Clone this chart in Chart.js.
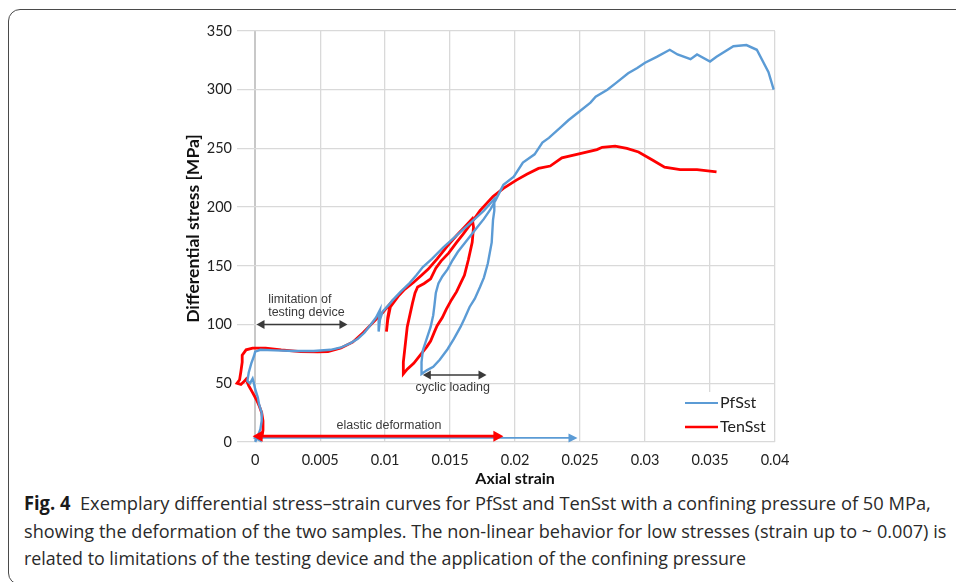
<!DOCTYPE html>
<html>
<head>
<meta charset="utf-8">
<script src="https://cdn.jsdelivr.net/npm/chart.js@4.4.1/dist/chart.umd.min.js"></script>
<style>
  html, body { margin: 0; padding: 0; background: #fff; }
  body { width: 956px; height: 582px; position: relative; overflow: hidden; }
  #frame { position: absolute; left: 8px; top: 9px; width: 980px; height: 576px; border: 1.5px solid #4a4a4a; border-radius: 12px; box-sizing: border-box; }
  #chartBox { position: absolute; left: 0; top: 0; }
  .cap { position: absolute; left: 24px; white-space: nowrap; font-family: 'Open Sans', sans-serif; font-size: 19px; line-height: 24px; color: #2a2a2a; transform-origin: 0 50%; }
  .cap b { font-weight: 700; color: #1a1a1a; }
</style>
</head>
<body>
<div id="frame"></div>
<div id="chartBox"><canvas id="stressChart" width="956" height="490"></canvas></div>
<div class="cap" data-w="907" style="top:491px"><b>Fig. 4</b>&nbsp; Exemplary differential stress–strain curves for PfSst and TenSst with a confining pressure of 50 MPa,</div>
<div class="cap" data-w="922" style="top:519px">showing the deformation of the two samples. The non-linear behavior for low stresses (strain up to ~ 0.007) is</div>
<div class="cap" data-w="722" style="top:546px">related to limitations of the testing device and the application of the confining pressure</div>
<script>
// axis ticks
const xTickValues = [0, 0.005, 0.01, 0.015, 0.02, 0.025, 0.03, 0.035, 0.04];
const xTickLabels = ['0', '0.005', '0.01', '0.015', '0.02', '0.025', '0.03', '0.035', '0.04'];
const yTickValues = [0, 50, 100, 150, 200, 250, 300, 350];
const seriesNames = ['PfSst', 'TenSst'];

// PfSst curve (axial strain, differential stress in MPa)
const pfStrain = [0, 0.0002, 0.0004, 0.0005, 0.0005, 0.0003, 0.0002, 0.0000, -0.0001, -0.0002, -0.0004, -0.0006, -0.0005, -0.0003, -0.0001, 0.0000, 0.0004,
  0.0015, 0.003, 0.0045, 0.0058, 0.0066, 0.0073, 0.0079, 0.0084, 0.0089, 0.0093, 0.0096, 0.0095, 0.0095, 0.0096, 0.0098, 0.0103, 0.0106,
  0.0112, 0.0119, 0.0124, 0.0129, 0.0136, 0.0145, 0.0151, 0.0158, 0.0168, 0.0176, 0.0184,
  0.0184, 0.0183, 0.0182, 0.0179, 0.0176, 0.0173, 0.0169, 0.0165, 0.0161, 0.0158, 0.0153, 0.0148, 0.0142, 0.0137, 0.0132, 0.0128,
  0.0128, 0.0129, 0.0132, 0.0135, 0.0137, 0.0138, 0.0139, 0.0141, 0.0144, 0.0148, 0.0152, 0.0156, 0.0161, 0.0166, 0.0171, 0.0176, 0.0181, 0.0185,
  0.0191, 0.0199, 0.0206, 0.0215, 0.0221, 0.0226, 0.0235, 0.0241, 0.0249, 0.0258, 0.0262, 0.0271, 0.0278, 0.0287, 0.0294, 0.0300,
  0.0309, 0.0319, 0.0325, 0.0335, 0.0340, 0.0350, 0.0355, 0.0368, 0.0378, 0.0386, 0.0395, 0.0399];
const pfStress = [0, 5, 11, 18, 25, 32, 38, 45, 50, 54, 50, 52, 59, 67, 73, 77, 78.5,
  78, 77.5, 77.5, 78.5, 80.5, 84, 88, 93, 100, 106, 112.5, 103, 94, 104, 111, 117, 121,
  128, 135.5, 142, 149, 156, 166, 172, 179, 189, 197, 207,
  197, 189, 170, 152, 140, 132, 122, 115, 105, 98, 88, 79, 70, 64, 61, 58,
  68, 78, 88, 98, 108, 117, 127, 135, 141, 147, 155, 162, 169, 176, 183, 190, 198, 206,
  219, 226, 238, 245, 255, 259, 268, 274, 281, 289, 294, 300, 306, 314, 318.5, 323,
  328, 334, 330, 326, 330, 324, 328, 337, 338, 334, 315, 300];

// TenSst curve
const tenStrain = [0.0005, 0.0006, 0.0006, 0.0005, 0.0003, 0.0001, -0.0002, -0.0005, -0.0007, -0.0009, -0.0011, -0.0014, -0.0012, -0.0011, -0.0010, -0.0010, -0.0007, -0.0002,
  0.0008, 0.002, 0.0035, 0.0048, 0.0056, 0.0066, 0.0075, 0.0083, 0.009, 0.0098, 0.0104, 0.0102, 0.0101, 0.0102, 0.0104, 0.0110,
  0.0115, 0.0122, 0.0128, 0.0133, 0.0140, 0.0148, 0.0155, 0.0161, 0.0167,
  0.0168, 0.0167, 0.0164, 0.0161, 0.0158, 0.0155, 0.0151, 0.0147, 0.0144, 0.0140, 0.0138, 0.0135, 0.0132, 0.0127, 0.0122, 0.0117, 0.0114,
  0.0114, 0.0115, 0.0116, 0.0117, 0.0119, 0.0121, 0.0123, 0.0125, 0.0130, 0.0135, 0.0139, 0.0143, 0.0149, 0.0155, 0.0160, 0.0166, 0.0173,
  0.0183, 0.0191, 0.0201, 0.0209, 0.0218, 0.0227, 0.0236, 0.0250, 0.0263, 0.0267, 0.0277, 0.0286, 0.0295, 0.0306, 0.0315, 0.0327, 0.0340, 0.0355];
const tenStress = [3, 10, 18, 25, 31, 36, 42, 48, 53.5, 51, 49, 50, 53, 60, 68, 74, 78.5, 80,
  80, 78.5, 77, 76.7, 77, 80, 85, 93, 101, 110, 118, 106, 94, 104, 115, 124,
  130, 136, 142, 147, 156, 167, 176, 183, 190,
  183, 170, 155, 142, 135, 128, 121, 113, 106, 99, 94, 86, 81, 74, 67, 62, 58,
  68, 78, 88, 98, 108, 118, 127, 132, 135, 139, 148, 154, 161, 170, 177, 186, 197,
  209, 216, 223, 228, 233, 235, 242, 245.5, 249, 251, 252, 250, 247, 240, 234, 232, 232, 230];

// annotation arrows and notes (strain, stress)
const arrowStarts = [[0.0001, 100], [0.0129, 57], [-0.0002, 3.5], [-0.0002, 5]];
const arrowEnds = [[0.0071, 100], [0.0178, 57], [0.0248, 3.5], [0.0191, 5]];
const noteTexts = ['limitation of', 'testing device', 'cyclic loading', 'elastic deformation'];
const notePoints = [[0.001, 121], [0.001, 110], [0.0152, 46], [0.0103, 14]];

const blueColor = '#5b9bd5';
const redColor = '#ff0000';
const noteColor = '#3a3a3a';

function toPoints(xs, ys) {
  return xs.map((v, i) => ({ x: v, y: ys[i] }));
}

function drawArrow(ctx, x1, y1, x2, y2, color, width, headLen, headHalf) {
  ctx.save();
  ctx.strokeStyle = color;
  ctx.fillStyle = color;
  ctx.lineWidth = width;
  ctx.beginPath();
  ctx.moveTo(x1 + headLen * 0.8, y1);
  ctx.lineTo(x2 - headLen * 0.8, y2);
  ctx.stroke();
  // both heads
  ctx.beginPath();
  ctx.moveTo(x1, y1);
  ctx.lineTo(x1 + headLen, y1 - headHalf);
  ctx.lineTo(x1 + headLen, y1 + headHalf);
  ctx.closePath();
  ctx.fill();
  ctx.beginPath();
  ctx.moveTo(x2, y2);
  ctx.lineTo(x2 - headLen, y2 - headHalf);
  ctx.lineTo(x2 - headLen, y2 + headHalf);
  ctx.closePath();
  ctx.fill();
  ctx.restore();
}

const decorPlugin = {
  id: 'decor',
  afterDatasetsDraw(chart) {
    const { ctx, chartArea } = chart;
    const xs = chart.scales.x;
    const ys = chart.scales.y;
    const arrowStyle = [
      [noteColor, 1.6, 8, 4.5],
      [noteColor, 1.6, 8, 4.5],
      [blueColor, 1.8, 9, 4.5],
      [redColor, 2.8, 10, 5.5]
    ];
    arrowStarts.forEach((start, i) => {
      const s = arrowStyle[i];
      drawArrow(ctx, xs.getPixelForValue(start[0]), ys.getPixelForValue(start[1]),
        xs.getPixelForValue(arrowEnds[i][0]), ys.getPixelForValue(arrowEnds[i][1]), s[0], s[1], s[2], s[3]);
    });

    ctx.save();
    ctx.font = '12.5px "Liberation Sans", Arial, sans-serif';
    ctx.fillStyle = noteColor;
    ctx.textBaseline = 'middle';
    noteTexts.forEach((text, i) => {
      ctx.textAlign = i < 2 ? 'left' : 'center';
      ctx.fillText(text, xs.getPixelForValue(notePoints[i][0]), ys.getPixelForValue(notePoints[i][1]));
    });
    ctx.restore();

    // axis titles
    ctx.save();
    ctx.fillStyle = '#111';
    ctx.textAlign = 'center';
    ctx.textBaseline = 'middle';
    ctx.font = 'bold 16px Lato, sans-serif';
    ctx.fillText('Axial strain', xs.getPixelForValue(0.02), 479);
    ctx.font = 'bold 17.5px Lato, sans-serif';
    ctx.translate(193, (chartArea.top + chartArea.bottom) / 2 - 8);
    ctx.rotate(-Math.PI / 2);
    ctx.fillText('Differential stress [MPa]', 0, 0);
    ctx.restore();

    // legend box
    const right = chartArea.right;
    const bottom = chartArea.bottom;
    ctx.save();
    ctx.fillStyle = '#fff';
    ctx.fillRect(right - 99, bottom - 50, 98, 49);
    [blueColor, redColor].forEach((color, i) => {
      const yy = bottom - 39 + i * 24;
      ctx.strokeStyle = color;
      ctx.lineWidth = i === 0 ? 2.2 : 2.6;
      ctx.beginPath();
      ctx.moveTo(right - 90, yy);
      ctx.lineTo(right - 57, yy);
      ctx.stroke();
      ctx.fillStyle = '#222';
      ctx.font = '16px Lato, sans-serif';
      ctx.textAlign = 'left';
      ctx.textBaseline = 'middle';
      ctx.fillText(seriesNames[i], right - 55, yy);
    });
    ctx.restore();
  }
};

const chartCtx = document.getElementById('stressChart').getContext('2d');
new Chart(chartCtx, {
  type: 'scatter',
  data: {
    datasets: [
      { label: seriesNames[0], data: toPoints(pfStrain, pfStress), showLine: true, borderColor: blueColor, borderWidth: 2.4, pointRadius: 0, tension: 0, clip: false },
      { label: seriesNames[1], data: toPoints(tenStrain, tenStress), showLine: true, borderColor: redColor, borderWidth: 2.8, pointRadius: 0, tension: 0, clip: false }
    ]
  },
  options: {
    responsive: false,
    devicePixelRatio: 1,
    animation: false,
    layout: { padding: { left: 0, top: 31, right: 181, bottom: 0 } },
    plugins: { legend: { display: false }, tooltip: { enabled: false } },
    scales: {
      x: {
        type: 'linear',
        min: -0.0014,
        max: 0.04,
        afterFit: (scale) => { scale.height = 48; },
        afterBuildTicks: (scale) => { scale.ticks = xTickValues.map(v => ({ value: v })); },
        ticks: {
          padding: 10,
          color: '#222',
          font: { family: 'Lato', size: 14.5 },
          callback: (value) => { const i = xTickValues.indexOf(value); return i >= 0 ? xTickLabels[i] : ''; }
        },
        grid: {
          drawTicks: false,
          color: (c) => (c.tick && c.tick.value === 0 ? '#c8c8c8' : '#d9d9d9'),
          lineWidth: (c) => (c.tick && c.tick.value === 0 ? 2 : 1.3)
        },
        border: { display: false }
      },
      y: {
        type: 'linear',
        min: 0,
        max: 350,
        afterFit: (scale) => { scale.width = 237; },
        afterBuildTicks: (scale) => { scale.ticks = yTickValues.map(v => ({ value: v })); },
        ticks: { padding: 5, color: '#222', font: { family: 'Lato', size: 14.5 } },
        grid: { drawTicks: false, color: '#d9d9d9', lineWidth: 1.3 },
        border: { display: false }
      }
    }
  },
  plugins: [decorPlugin]
});

// squeeze caption lines to the condensed width of the original
document.querySelectorAll('.cap').forEach((el) => {
  const target = Number(el.dataset.w);
  const w = el.scrollWidth;
  if (w > 0) el.style.transform = 'scaleX(' + (target / w).toFixed(4) + ')';
});
</script>
</body>
</html>
